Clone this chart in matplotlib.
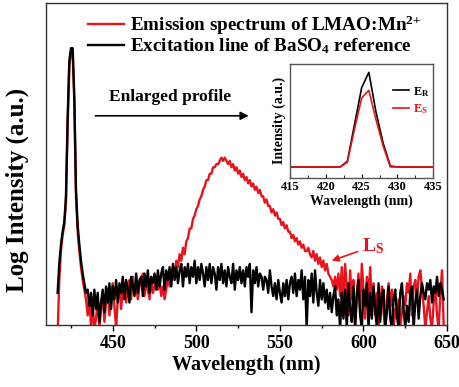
import numpy as np
import matplotlib
matplotlib.use("Agg")
import matplotlib.pyplot as plt

# wavelength grid of the spectra (nm)
wavelength = np.arange(417, 649)

# BaSO4 reference (black), log intensity, arbitrary units
black_vals = [
    10, 19, 25, 29, 32, 40, 64, 82, 86, 86,
    71, 42, 31, 25, 20, 16, 13, 10, 11, 6,
    10, 3, 11, 5, 10, 1, 7, 11, 4, 12,
    7, 13, 5, 12, 8, 14, 7, 13, 10, 15,
    8, 14, 11, 7, 15, 12, 9, 16, 10, 14,
    15, 9, 16, 12, 17, 10, 15, 13, 16, 11,
    17, 12, 16, 18, 11, 17, 14, 18, 12, 19,
    14, 18, 13, 17, 19, 12, 18, 15, 19, 13,
    18, 15, 20, 13, 18, 14, 19, 16, 12, 18,
    14, 19, 13, 18, 16, 11, 18, 14, 19, 13,
    17, 12, 18, 15, 13, 19, 11, 17, 14, 18,
    13, 17, 12, 18, 15, 19, 4, 17, 13, 18,
    12, 16, 15, 11, 15, 14, 10, 17, 12, 9,
    13, 8, 14, 10, 7, 13, 9, 14, 8, 13,
    15, 10, 16, 9, 14, 11, 17, 8, 15, -1,
    14, 9, 16, 7, 17, 10, 6, 14, 8, 13,
    7, 11, 5, 10, 4, 9, 12, 3, 8, -1,
    10, 2, 11, -1, 13, 5, 1, 12, -1, 9,
    14, 3, -1, 11, 6, 13, -1, 10, 2, 12,
    5, -1, 13, 1, 9, 11, -1, 4, 12, 2,
    -1, 8, 11, 3, -1, 10, 13, 5, -1, 6,
    1, 10, 12, -1, 7, 11, 2, 9, 13, 10,
    8, 13, 11, 14, 7, 12, 10, 15, 9, 13,
    11, 8,
]

# LMAO:Mn2+ emission (red)
red_vals = [
    -3, 14, 23, 28, 31, 38, 62, 80, 85, 85,
    69, 40, 29, 23, 18, 14, 11, 8, 3, 9,
    -1, 6, -1, 2, 8, -1, 5, 10, 1, 7,
    11, 3, 10, 13, 6, -1, 8, 12, 5, 11,
    13, 7, 12, 14, 8, 15, 10, 13, 8, 12,
    14, 16, 9, 13, 11, 8, 14, 10, 12, 15,
    11, 14, 9, 12, 8, 11, 15, 12, 16, 18,
    16, 20, 18, 22, 20, 24, 22, 26, 27, 30,
    30, 33, 34, 36, 37, 39, 40, 42, 43, 45,
    45, 47, 47, 49, 49, 50, 50, 51, 52, 51,
    52, 51, 50, 51, 49, 50, 48, 49, 47, 48,
    46, 47, 45, 46, 44, 45, 43, 44, 42, 43,
    41, 42, 40, 40, 38, 39, 37, 37, 35, 36,
    34, 35, 33, 33, 31, 32, 30, 31, 29, 29,
    27, 28, 26, 27, 25, 26, 24, 25, 23, 23,
    24, 22, 21, 23, 20, 22, 19, 21, 18, 20,
    17, 19, 16, 15, 14, 12, 15, 11, 16, 9,
    18, 6, 19, 12, 3, 17, 8, 14, -1, 10,
    16, 5, 19, 11, 2, 15, 9, 18, 6, 13,
    3, 10, -1, 7, 12, 4, -1, 8, 13, 6,
    11, -1, 5, 2, 8, -1, 4, 9, 6, 13,
    10, 16, 3, 12, 14, 8, 15, 17, 11, 6,
    -1, 4, 9, 2, -1, 7, 12, 3, -1, 10,
    17, -1,
]

# inset: enlarged excitation peak
inset_wl = [415, 416, 417, 418, 419, 420, 421, 422, 423, 424, 425, 426, 427, 428, 429, 430,
            431, 432, 433, 434, 435]
inset_er = [0, 0, 0, 0, 0, 0, 0, 0, 0.06, 0.45, 0.84, 1.0, 0.58, 0.25, 0.01, 0,
            0, 0, 0, 0, 0]
inset_es = [0, 0, 0, 0, 0, 0, 0, 0, 0.05, 0.40, 0.73, 0.81, 0.50, 0.22, 0.0, 0,
            0, 0, 0, 0, 0]

plt.rcParams['font.family'] = ['Liberation Serif', 'DejaVu Serif']
plt.rcParams['font.weight'] = 'bold'
plt.rcParams['mathtext.fontset'] = 'custom'
plt.rcParams['mathtext.rm'] = 'Liberation Serif:bold'
plt.rcParams['mathtext.bf'] = 'Liberation Serif:bold'
plt.rcParams['mathtext.it'] = 'Liberation Serif:bold'

fig = plt.figure(figsize=(4.59, 3.87), dpi=100)
ax = fig.add_axes([0.100, 0.160, 0.874, 0.832])

ax.plot(wavelength, red_vals, color='#e8141b', lw=1.7,
        label=r'Emission spectrum of LMAO:Mn$^{2{+}}$')
ax.plot(wavelength, black_vals, color='black', lw=1.7,
        label=r'Excitation line of BaSO$_4$ reference')

ax.set_xlim(410, 650)
ax.set_ylim(0, 100)
ax.set_xticks([450, 500, 550, 600, 650])
ax.set_xticks([425, 475, 525, 575, 625], minor=True)
ax.set_yticks([])
ax.tick_params(axis='x', direction='out', length=4, width=1, labelsize=13, pad=3)
ax.tick_params(axis='x', which='minor', direction='out', length=2.5, width=1)
for s in ax.spines.values():
    s.set_linewidth(1.0)
    s.set_color('#333333')
for lab in ax.get_xticklabels():
    lab.set_fontweight('bold')

ax.set_xlabel('Wavelength (nm)', fontsize=14.5, fontweight='bold', labelpad=2)
ax.set_ylabel('Log Intensity (a.u.)', fontsize=18, fontweight='bold')
ax.yaxis.set_label_coords(-0.043, 0.42)

ax.legend(loc='upper left', bbox_to_anchor=(0.105, 0.968), frameon=False,
          fontsize=13.8, handlelength=1.9, handletextpad=0.3, labelspacing=-0.02,
          borderpad=0, borderaxespad=0)

ax.annotate('', xy=(533, 65), xytext=(438, 65),
            arrowprops=dict(arrowstyle='-|>', color='black', lw=1.2,
                            mutation_scale=12))
ax.text(484, 68.5, 'Enlarged profile', fontsize=12.5, fontweight='bold',
        ha='center', va='bottom')

ax.annotate(r'L$_S$', xy=(581, 20), xytext=(599, 24.5), color='#e8141b',
            fontsize=14, fontweight='bold', va='center',
            arrowprops=dict(arrowstyle='-|>', color='#e8141b', lw=1.2,
                            mutation_scale=10, shrinkA=1, shrinkB=0))

# inset
axi = fig.add_axes([0.632, 0.540, 0.312, 0.295])
axi.plot(inset_wl, inset_er, color='black', lw=1.2, label=r'E$_R$')
axi.plot(inset_wl, inset_es, color='#e8141b', lw=1.2, label=r'E$_S$')
axi.set_xlim(415, 435)
axi.set_ylim(-0.117, 1.09)
axi.set_xticks([415, 420, 425, 430, 435])
axi.set_xticks([417.5, 422.5, 427.5, 432.5], minor=True)
axi.set_yticks([])
axi.tick_params(axis='x', direction='in', length=3, labelsize=9, pad=2)
axi.tick_params(axis='x', which='minor', direction='in', length=2)
for s in axi.spines.values():
    s.set_linewidth(1.0)
    s.set_color('#555555')
axi.set_xlabel('Wavelength (nm)', fontsize=10, fontweight='bold', labelpad=1)
axi.set_ylabel('Intensity (a.u.)', fontsize=10, fontweight='bold', labelpad=3)
leg = axi.legend(loc='upper right', bbox_to_anchor=(1.0, 0.85), frameon=False,
                 fontsize=9, handlelength=1.3, handletextpad=0.3, labelspacing=0.3,
                 borderpad=0, borderaxespad=0.3)
for txt, c in zip(leg.get_texts(), ['black', '#e8141b']):
    txt.set_color(c)

fig.savefig('out.png', dpi=100)
